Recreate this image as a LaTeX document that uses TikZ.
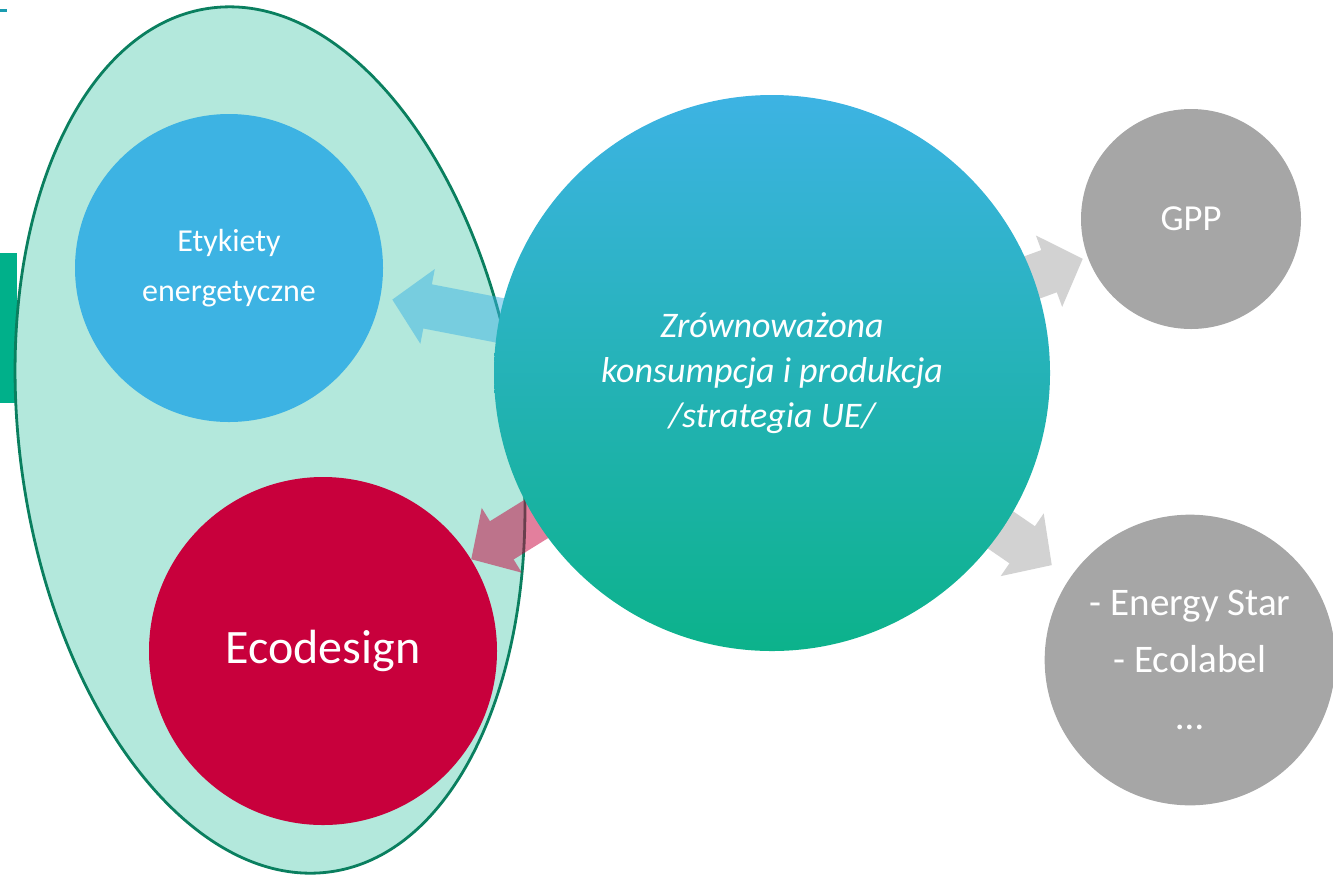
\documentclass[tikz,border=0pt]{standalone}
\usepackage{fontspec}
\setmainfont{Carlito}
\usetikzlibrary{arrows.meta}
\definecolor{mint}{HTML}{B3E8DC}
\definecolor{mintline}{HTML}{0A7F5F}
\definecolor{etykblue}{HTML}{3DB3E3}
\definecolor{ecored}{HTML}{C8003C}
\definecolor{gppgray}{HTML}{A6A6A6}
\definecolor{sccgreen}{HTML}{0CB28B}
\definecolor{barteal}{HTML}{00B08A}
\definecolor{dashteal}{HTML}{1A9CB0}
\pgfdeclarelayer{back}
\pgfdeclarelayer{arrowlayer}
\pgfsetlayers{back,arrowlayer,main}
\tikzset{
  ball/.style={circle, inner sep=0pt, text=white, align=center},
  blockarrow/.style={line width=33.75pt, -{Triangle[length=27pt,width=55.5pt]}, shorten <=-6pt}
}
\begin{document}
\begin{tikzpicture}[x=0.75pt, y=-0.75pt]
\useasboundingbox (0,0) rectangle (1333,876);

\begin{pgfonlayer}{back}
\fill[dashteal] (0,9) rectangle (7,12);
\fill[barteal] (0,253) rectangle (17,403);
\draw[mintline, fill=mint, line width=2.1pt, rotate around={8:(270,440)}] (270,440) ellipse [x radius=250, y radius=436];
\end{pgfonlayer}

\node (etyk)[ball, fill=etykblue, minimum size=231pt, font=\fontsize{24}{37.5}\selectfont] at (229,268) {Etykiety\\energetyczne};
\node (eco)[ball, fill=ecored, minimum size=261pt, font=\fontsize{36}{42}\selectfont] at (323,651) {Ecodesign};
\node (gpp)[ball, fill=gppgray, minimum size=165pt, font=\fontsize{27.5}{30}\selectfont] at (1191,219) {GPP};
\node (star)[ball, fill=gppgray, minimum size=218pt, font=\fontsize{29.3}{43}\selectfont] at (1190,660) {- Energy Star\\- Ecolabel\\…};
\node (big)[ball, top color=etykblue, bottom color=sccgreen, minimum size=417pt, font=\fontsize{27}{34}\selectfont\itshape] at (772,373) {Zrównoważona\\konsumpcja i produkcja\\/strategia UE/};

\begin{pgfonlayer}{arrowlayer}
\foreach \target/\col/\gap in {etyk/etykblue/9pt, eco/ecored/0pt, gpp/gppgray/3.75pt, star/gppgray/16.5pt}
{
	\begin{scope}[transparency group, opacity=.5]
	\draw[blockarrow, \col, shorten >=\gap] (big) -- (\target);
	\end{scope}
}
\end{pgfonlayer}
\end{tikzpicture}
\end{document}
